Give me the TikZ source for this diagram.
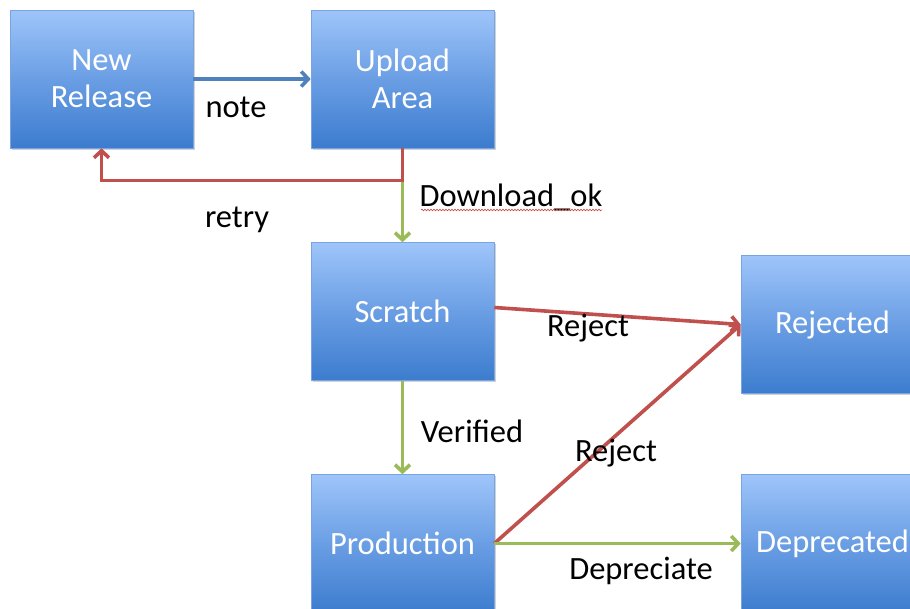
\documentclass[tikz,border=0pt]{standalone}
\usepackage{fontspec}
\setmainfont{Carlito}
\usetikzlibrary{arrows.meta,shadows,decorations.pathmorphing}
\definecolor{flowblue}{HTML}{4F81BD}
\definecolor{flowred}{HTML}{C0504D}
\definecolor{flowgreen}{HTML}{9BBB59}
\definecolor{boxtop}{RGB}{158,197,250}
\definecolor{boxmid}{RGB}{106,158,228}
\definecolor{boxbot}{RGB}{60,124,206}
\definecolor{boxedge}{RGB}{120,165,226}
\tikzset{
  box/.style={rectangle, minimum width=183pt, minimum height=138pt,
    top color=boxtop, bottom color=boxbot, middle color=boxmid,
    draw=boxedge, line width=0.6pt, text=white, align=center,
    font=\fontsize{32.5}{37}\selectfont,
    drop shadow={shadow xshift=1.5pt, shadow yshift=-1.5pt, opacity=0.35}},
  conn/.style={line width=3.6pt, -{Straight Barb[length=7pt,width=15pt,line width=3.6pt]}},
  arrblue/.style={conn, draw=flowblue},
  arrred/.style={conn, draw=flowred},
  arrgreen/.style={conn, draw=flowgreen},
  lbl/.style={text=black, font=\fontsize{32.5}{37}\selectfont, inner sep=0pt}
}
\begin{document}
\begin{tikzpicture}[x=1pt,y=-1pt]
  \useasboundingbox (0,0) rectangle (910,608);
  \clip (0,0) rectangle (910,608);
  \fill[white] (0,0) rectangle (910,608);

  % state boxes
  \node[box] (new) at (101.5,79) {New\\Release};
  \node[box] (upload) at (402.5,79) {Upload\\Area};
  \node[box] (scratch) at (402.5,311.5) {Scratch};
  \node[box] (rejected) at (832.5,324.5) {Rejected};
  \node[box] (prod) at (402.5,543.5) {Production};
  \node[box] (dep) at (832.5,543.5) {Deprecated};

  % transitions
  \draw[arrblue] (new.east) -- (upload.west);
  \draw[arrgreen] (upload.south) -- (scratch.north);
  \draw[arrred] (upload.south) -- ++(0,32) -| (new.south);
  \draw[arrred] ([yshift=4pt]scratch.east) -- (rejected.west);
  \draw[arrgreen] (scratch.south) -- (prod.north);
  \draw[arrred] (prod.east) -- (rejected.west);
  \draw[arrgreen] (prod.east) -- (dep.west);

  % transition labels
  \node[lbl] (lnote) at (236,107) {note};
  \node[lbl] (lretry) at (237,220) {retry};
  \node[lbl] (ldown) at (511,197) {Download\_ok};
  \node[lbl] (lrej1) at (588,328) {Reject};
  \node[lbl] (lver) at (472,431) {Verified};
  \node[lbl] (lrej2) at (616,453) {Reject};
  \node[lbl] (ldep) at (641,571) {Depreciate};

  % spell-check underline
  \draw[flowred!80!red, line width=0.6pt,
    decorate, decoration={snake, amplitude=0.8pt, segment length=3pt}]
    (421,210) -- (602,210);
\end{tikzpicture}
\end{document}
